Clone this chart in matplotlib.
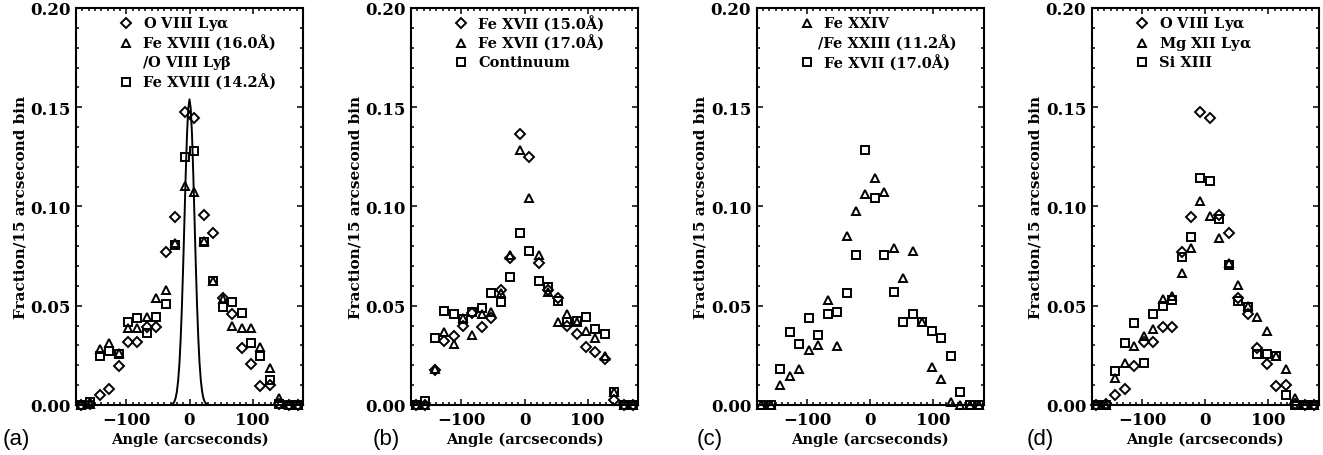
import numpy as np
import matplotlib
matplotlib.use("Agg")
import matplotlib.pyplot as plt
from matplotlib.ticker import MultipleLocator, FormatStrFormatter

plt.rcParams['font.family'] = 'DejaVu Serif'
plt.rcParams['font.weight'] = 'bold'
plt.rcParams['mathtext.fontset'] = 'dejavuserif'

# 15 arcsecond bins
angle = [-172.5, -157.5, -142.5, -127.5, -112.5, -97.5, -82.5, -67.5, -52.5, -37.5, -22.5, -7.5,
         7.5, 22.5, 37.5, 52.5, 67.5, 82.5, 97.5, 112.5, 127.5, 142.5, 157.5, 172.5]

o8_lya = [0, 0.0005, 0.005, 0.008, 0.0198, 0.0319, 0.0319, 0.0393, 0.0391, 0.0769, 0.0945, 0.1474,
          0.1446, 0.0957, 0.0865, 0.0538, 0.0458, 0.0288, 0.0205, 0.0097, 0.0099, 0.0005, 0, 0]
fe18_160 = [0, 0.0005, 0.0282, 0.0312, 0.0262, 0.0386, 0.039, 0.0445, 0.0537, 0.058, 0.0816, 0.1105,
            0.1075, 0.0828, 0.0626, 0.0534, 0.040, 0.0386, 0.0386, 0.029, 0.0185, 0.0036, 0, 0]
fe18_142 = [0, 0.0013, 0.0245, 0.0272, 0.0255, 0.0416, 0.0438, 0.0363, 0.0442, 0.0507, 0.0806, 0.1251,
            0.128, 0.0823, 0.0626, 0.0492, 0.0517, 0.0463, 0.0312, 0.0249, 0.0128, 0.0005, 0, 0]

fe17_150 = [0, 0, 0.0176, 0.0324, 0.0349, 0.0396, 0.0463, 0.0391, 0.0437, 0.0581, 0.0739, 0.1365,
            0.1251, 0.0715, 0.0581, 0.054, 0.040, 0.0358, 0.029, 0.0269, 0.0232, 0.0025, 0, 0]
fe17_170 = [0, 0, 0.0181, 0.0368, 0.0309, 0.0439, 0.0354, 0.0458, 0.0468, 0.0564, 0.0757, 0.1286,
            0.1042, 0.0756, 0.057, 0.0416, 0.0458, 0.042, 0.0372, 0.034, 0.0247, 0.0066, 0, 0]
continuum = [0, 0.0018, 0.0338, 0.0475, 0.0457, 0.0433, 0.0467, 0.0487, 0.0564, 0.0517, 0.0643, 0.0867,
             0.0778, 0.0625, 0.0596, 0.0524, 0.0416, 0.0425, 0.0445, 0.0383, 0.0358, 0.0064, 0, 0]

fe24_112 = [0, 0, 0.0102, 0.0148, 0.0181, 0.0277, 0.0302, 0.0531, 0.0296, 0.085, 0.0977, 0.1063,
            0.1144, 0.1071, 0.0791, 0.0638, 0.0777, 0.0416, 0.0193, 0.0131, 0.0017, 0, 0, 0]

mg12_lya = [0, 0, 0.0134, 0.0212, 0.0299, 0.0349, 0.0383, 0.0534, 0.0547, 0.0665, 0.0789, 0.1029,
            0.0954, 0.0841, 0.0714, 0.0606, 0.0497, 0.0442, 0.0371, 0.0249, 0.0181, 0.0034, 0, 0]
si13 = [0, 0, 0.0173, 0.0312, 0.0411, 0.0212, 0.0458, 0.0497, 0.0531, 0.0747, 0.0845, 0.1144,
        0.1127, 0.0937, 0.0707, 0.0522, 0.0495, 0.0257, 0.0257, 0.0249, 0.0052, 0, 0, 0]

# point spread function drawn in panel (a)
psf_x = [-180, -30, -26, -24, -22, -20, -18, -16, -14, -12, -10, -8, -6, -4, -2, 0,
         2, 4, 6, 8, 10, 12, 14, 16, 18, 20, 22, 24, 26, 30, 180]
psf_y = [0, 0, 0.0008, 0.0017, 0.0035, 0.0068, 0.0123, 0.0208, 0.0333, 0.050, 0.0705, 0.0934, 0.1162,
         0.1359, 0.1493, 0.154, 0.1493, 0.1359, 0.1162, 0.0934, 0.0705, 0.050, 0.0333, 0.0208, 0.0123,
         0.0068, 0.0035, 0.0017, 0.0008, 0, 0]

MS = {'D': 4.6, '^': 6.4, 's': 6.4}
FS = 10.5


def draw_panel(ax, series, legend):
	for vals, mk in series:
		ax.plot(angle, vals, ls='none', marker=mk, ms=MS[mk], mfc='none', mec='k', mew=1.4, clip_on=False)

	ax.set_xlim(-180, 180)
	ax.set_ylim(0, 0.2)
	ax.xaxis.set_major_locator(MultipleLocator(100))
	ax.xaxis.set_minor_locator(MultipleLocator(10))
	ax.yaxis.set_major_locator(MultipleLocator(0.05))
	ax.yaxis.set_minor_locator(MultipleLocator(0.01))
	ax.yaxis.set_major_formatter(FormatStrFormatter('%.2f'))
	ax.tick_params(which='both', direction='in', top=True, right=True, labelsize=12, width=1.1)
	ax.tick_params(which='major', length=4.5, pad=4)
	ax.tick_params(which='minor', length=2.2)
	for sp in ax.spines.values():
		sp.set_linewidth(1.5)
	ax.set_xlabel('Angle (arcseconds)', fontsize=FS, fontweight='bold', labelpad=3)
	ax.set_ylabel('Fraction/15 arcsecond bin', fontsize=FS + 0.5, fontweight='bold', labelpad=2)

	# legend as in the original: symbol, then label
	y = 0.962
	for mk, txt, tx in legend:
		if mk is not None:
			ax.plot([0.222], [y], transform=ax.transAxes, ls='none', marker=mk, ms=MS[mk],
			        mfc='none', mec='k', mew=1.4, clip_on=False)
		ax.text(tx, y, txt, transform=ax.transAxes, ha='left', va='center', fontsize=FS, fontweight='bold')
		y -= 0.0493


fig = plt.figure(figsize=(13.23, 4.56), dpi=100)
lefts = [76, 411, 756.7, 1091.7]
axs = [fig.add_axes([l / 1323, 50 / 456, 227 / 1323, 397 / 456]) for l in lefts]

draw_panel(axs[0], [(o8_lya, 'D'), (fe18_160, '^'), (fe18_142, 's')],
           [('D', r'O VIII Ly$\mathrm{\alpha}$', 0.295),
            ('^', u'Fe XVIII (16.0\u00c5)', 0.295),
            (None, r'/O VIII Ly$\mathrm{\beta}$', 0.289),
            ('s', u'Fe XVIII (14.2\u00c5)', 0.295)])
axs[0].plot(psf_x, psf_y, c='k', lw=1.4)

draw_panel(axs[1], [(fe17_150, 'D'), (fe17_170, '^'), (continuum, 's')],
           [('D', u'Fe XVII (15.0\u00c5)', 0.295),
            ('^', u'Fe XVII (17.0\u00c5)', 0.295),
            ('s', 'Continuum', 0.295)])

draw_panel(axs[2], [(fe24_112, '^'), (fe17_170, 's')],
           [('^', 'Fe XXIV', 0.295),
            (None, u'/Fe XXIII (11.2\u00c5)', 0.272),
            ('s', u'Fe XVII (17.0\u00c5)', 0.295)])

draw_panel(axs[3], [(o8_lya, 'D'), (mg12_lya, '^'), (si13, 's')],
           [('D', r'O VIII Ly$\mathrm{\alpha}$', 0.295),
            ('^', r'Mg XII Ly$\mathrm{\alpha}$', 0.295),
            ('s', 'Si XIII', 0.295)])

for lab, xp in zip(['(a)', '(b)', '(c)', '(d)'], [3, 373, 697, 1027]):
	fig.text(xp / 1323, 16 / 456, lab, family='Liberation Sans', fontweight='normal', fontsize=16,
	         ha='left', va='center')

fig.savefig('out.png', dpi=100)
